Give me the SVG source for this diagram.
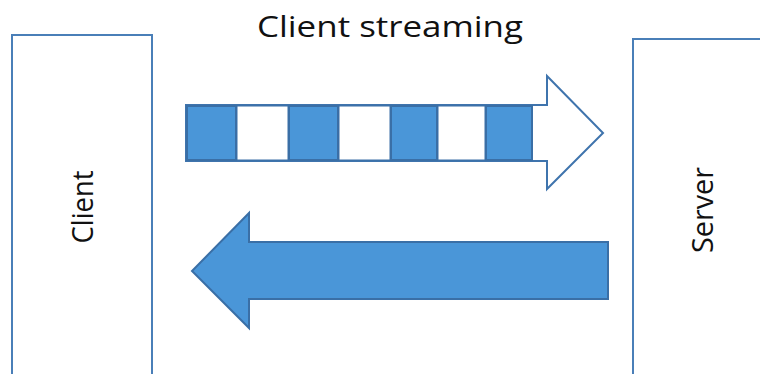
<svg xmlns="http://www.w3.org/2000/svg" width="760" height="374" viewBox="0 0 760 374">
  <style>
    .box { fill: #ffffff; stroke: #4a7fb8; stroke-width: 2; }
    .label { font-family: "Open Sans", "Liberation Sans", sans-serif; font-size: 29px; fill: #111111; }
    .blk { fill: #4a96d8; stroke: #3a6fa6; stroke-width: 2; }
    .gap { fill: #ffffff; stroke: #3a6fa6; stroke-width: 1; }
    .outline { fill: #ffffff; stroke: #3f74ad; stroke-width: 2; stroke-linejoin: miter; }
    .solid { fill: #4a96d8; stroke: #3a6fa6; stroke-width: 2; stroke-linejoin: miter; }
  </style>

  <rect width="760" height="374" fill="#ffffff"/>

  <text class="label" x="390" y="37" text-anchor="middle" textLength="266" lengthAdjust="spacingAndGlyphs">Client streaming</text>

  <g id="client">
    <rect class="box" x="12" y="35" width="140" height="360"/>
    <text class="label" transform="translate(93,207) rotate(-90)" text-anchor="middle" textLength="73" lengthAdjust="spacingAndGlyphs">Client</text>
  </g>

  <g id="server">
    <rect class="box" x="633" y="39" width="160" height="360"/>
    <text class="label" transform="translate(713,210) rotate(-90)" text-anchor="middle" textLength="86" lengthAdjust="spacingAndGlyphs">Server</text>
  </g>

  <g id="connectors">
    <!-- streamed requests: segmented arrow, client to server -->
    <g id="request-stream">
      <polygon class="outline" points="186,105 547,105 547,76 603,133 547,189 547,161 186,161"/>
      <rect class="blk" x="187" y="106" width="49" height="54"/>
      <rect class="gap" x="237" y="106" width="51" height="54"/>
      <rect class="blk" x="289" y="106" width="49" height="54"/>
      <rect class="gap" x="339" y="106" width="51" height="54"/>
      <rect class="blk" x="391" y="106" width="46" height="54"/>
      <rect class="gap" x="438" y="106" width="47" height="54"/>
      <rect class="blk" x="486" y="106" width="46" height="54"/>
    </g>
    <!-- single response: solid arrow, server to client -->
    <polygon id="response" class="solid" points="608,242 249,242 249,213 192,271 249,328 249,299 608,299"/>
  </g>
</svg>
